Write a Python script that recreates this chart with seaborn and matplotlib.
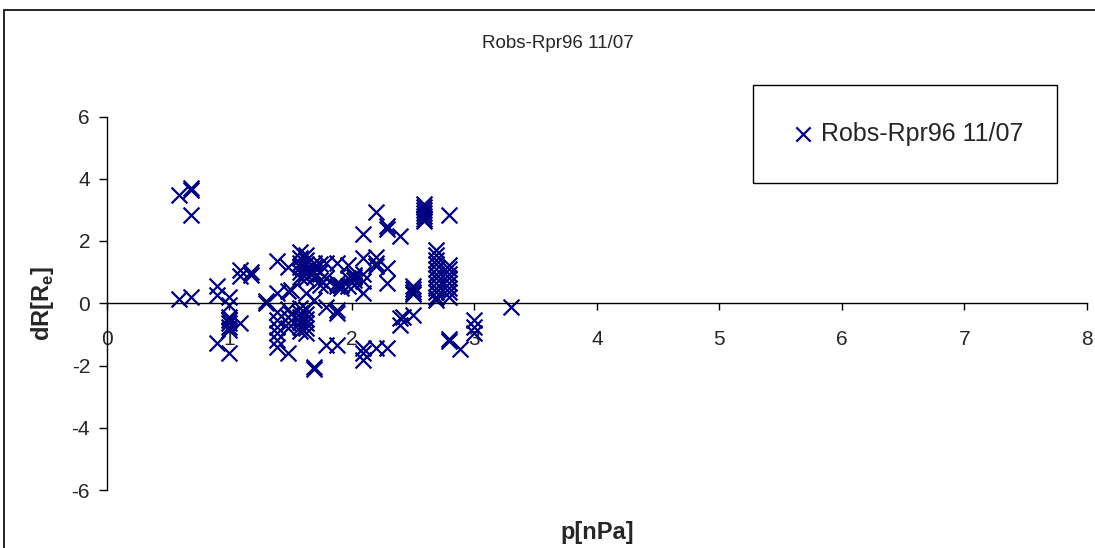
import matplotlib
matplotlib.use("Agg")
import matplotlib.pyplot as plt
import seaborn as sns
import pandas as pd
from matplotlib.patches import Rectangle

# ---- data ----
p_nPa = (
    [0.59] * 2 + [0.685] * 4 + [0.90] * 3 + [1.00] * 8 + [1.09] * 3 + [1.18] * 2
    + [1.30] * 2 + [1.39] * 8 + [1.48] * 7 + [1.50] * 2 + [1.58] * 12 + [1.63] * 13
    + [1.69] * 7 + [1.74] * 4 + [1.79] * 5 + [1.88] * 6 + [1.91] * 2 + [1.97] * 3
    + [2.02] * 4 + [2.09] * 8 + [2.20] * 5 + [2.29] * 5 + [2.39] * 3 + [2.42] * 1
    + [2.50] * 5 + [2.59] * 7 + [2.69] * 12 + [2.79] * 11 + [2.88] * 1 + [3.00] * 3
    + [3.30] * 1
)
dR_Re = [
    3.49, 0.13,
    3.71, 3.65, 2.85, 0.19,
    0.54, 0.27, -1.29,
    0.21, -0.05, -0.43, -0.55, -0.62, -0.75, -0.85, -1.61,
    1.07, 0.88, -0.63,
    1.02, 0.90,
    0.0, 0.08,
    1.37, 0.32, -0.28, -0.55, -0.75, -0.95, -1.18, -1.40,
    1.18, 0.40, -0.2, -0.45, -0.65, -0.8, -1.61,
    0.43, -0.35,
    1.66, 1.45, 1.3, 1.15, 1.0, 0.85, -0.15, -0.3, -0.45, -0.6, -0.75, -0.9,
    1.55, 1.4, 1.25, 1.1, 0.95, 0.8, 0.32, -0.2, -0.35, -0.5, -0.65, -0.8, -0.95,
    1.3, 1.15, 1.0, 0.85, 0.1, -2.05, -2.1,
    1.25, 1.0, 0.75, 0.6,
    1.29, 0.82, 0.6, -0.11, -1.35,
    1.29, 0.65, 0.54, -0.22, -0.3, -1.35,
    0.6, 0.5,
    1.24, 0.8, 0.55,
    0.9, 0.75, 0.85, 0.6,
    2.24, 1.45, 0.95, 0.7, 0.33, -1.45, -1.61, -1.83,
    2.92, 1.5, 1.29, 1.2, -1.45,
    2.47, 2.37, 1.13, 0.65, -1.45,
    2.15, -0.48, -0.7,
    -0.43,
    0.54, 0.45, 0.37, 0.3, -0.38,
    3.2, 3.1, 3.0, 2.9, 2.8, 2.7, 2.65,
    1.7, 1.55, 1.4, 1.25, 1.1, 0.95, 0.8, 0.65, 0.5, 0.35, 0.2, 0.1,
    2.85, 1.23, 1.1, 0.95, 0.8, 0.65, 0.5, 0.35, 0.2, -1.16, -1.2,
    -1.48,
    -0.54, -0.75, -0.97,
    -0.13,
]
series_name = "Robs-Rpr96 11/07"
x_ticks = [0, 1, 2, 3, 4, 5, 6, 7, 8]
y_ticks = [-6, -4, -2, 0, 2, 4, 6]

df = pd.DataFrame({"p": p_nPa, "dR": dR_Re})

sns.set_theme(style="white")
plt.rcParams["font.family"] = ["Liberation Sans", "DejaVu Sans"]
plt.rcParams["mathtext.fontset"] = "custom"
plt.rcParams["mathtext.rm"] = "Liberation Sans"
plt.rcParams["mathtext.bf"] = "Liberation Sans:bold"

W, H = 1095, 548
fig = plt.figure(figsize=(W / 100, H / 100), dpi=100)
fig.patch.set_facecolor("white")

x0, x1 = 106.7, 1087.0
y_top, y_bot = 116.5, 490.0
ax = fig.add_axes([x0 / W, 1 - y_bot / H, (x1 - x0) / W, (y_bot - y_top) / H])
ax.set_facecolor("none")

navy = "#000080"
sns.scatterplot(data=df, x="p", y="dR", marker="x", color=navy, s=130,
                linewidth=1.6, ax=ax, label=series_name, legend=False, clip_on=False)

ax.set_xlim(0, 8)
ax.set_ylim(-6, 6)
ax.set_xticks(x_ticks)
ax.set_yticks(y_ticks)
ax.set_xticklabels([str(v) for v in x_ticks])
ax.set_yticklabels([str(v) for v in y_ticks])

for s in ["top", "right"]:
    ax.spines[s].set_visible(False)
ax.spines["bottom"].set_position(("data", 0))
ax.spines["left"].set_position(("data", 0))
for s in ["bottom", "left"]:
    ax.spines[s].set_color("black")
    ax.spines[s].set_linewidth(1.0)

ax.tick_params(axis="x", direction="out", length=5, width=1, color="black",
               pad=14, labelsize=15, bottom=True)
ax.tick_params(axis="y", direction="out", length=6, width=1, color="black",
               pad=6, labelsize=15, left=True)

ax.set_xlabel("p[nPa]", fontsize=17, fontweight="bold")
ax.xaxis.label.set_va("center")
ax.xaxis.set_label_coords(0.5, (y_bot - 533) / (y_bot - y_top))
ax.set_ylabel(r"dR[R$_\mathbf{e}$]", fontsize=17, fontweight="bold")
ax.yaxis.label.set_va("center")
ax.yaxis.set_label_coords((42 - x0) / (x1 - x0), 0.5)

fig.text(558 / W, 1 - 43 / H, series_name, ha="center", va="center", fontsize=13.5)

# outer chart frame
fig.add_artist(Rectangle((4 / W, -0.05), 1.2, 1 - 10 / H + 0.05, transform=fig.transFigure,
                         fill=False, edgecolor="black", linewidth=1.2))

# legend box
lx0, ly0, lx1, ly1 = 753, 85, 1057, 183
fig.add_artist(Rectangle((lx0 / W, 1 - ly1 / H), (lx1 - lx0) / W, (ly1 - ly0) / H,
                         transform=fig.transFigure, facecolor="white",
                         edgecolor="black", linewidth=1.0))
h = ax.collections[0]
leg = fig.legend([h], [series_name], loc="center",
                 bbox_to_anchor=((lx0 + lx1) / 2 / W + 0.001, 1 - (ly0 + ly1) / 2 / H),
                 frameon=False, fontsize=18, handletextpad=0.15, handlelength=1.1,
                 markerscale=0.9)

fig.savefig("out.png", dpi=100)
